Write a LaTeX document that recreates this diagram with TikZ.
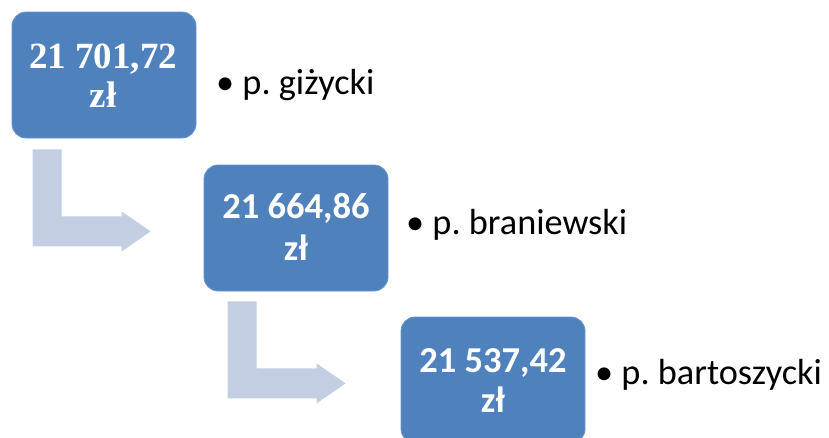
\documentclass[tikz,border=0pt]{standalone}
\usepackage{fontspec}
\setmainfont{Carlito}
\newfontfamily\carlito{Carlito}
\newfontfamily\libserif{Liberation Serif}
\definecolor{boxblue}{HTML}{4F81BD}
\definecolor{boxedge}{HTML}{6A95CA}
\definecolor{arrowfill}{HTML}{C3CEE3}
\frenchspacing
\tikzset{
  valbox/.style={draw=boxedge, line width=0.8pt, fill=boxblue, rounded corners=14pt,
    minimum width=184pt, minimum height=126pt, inner sep=0pt},
  valtxt/.style={anchor=base, inner sep=0pt, text=white, font=\carlito\bfseries\fontsize{36.5}{42}\selectfont},
  valtxtserif/.style={anchor=base, inner sep=0pt, text=white, font=\libserif\bfseries\fontsize{37}{42}\selectfont},
  bullettxt/.style={anchor=base west, inner sep=0pt, text=black, font=\carlito\fontsize{36.3}{42}\selectfont},
  bent/.style={fill=arrowfill, draw=none}
}
\begin{document}
\begin{tikzpicture}[x=1pt,y=-1pt]
\useasboundingbox (0,0) rectangle (829,437);
\begin{scope}
\clip (0,0) rectangle (829,437);
% boxes
\node[valbox] (b1) at (104,75) {};
\node[valbox] (b2) at (296,228) {};
\node[valbox] (b3) at (493,380) {};
\end{scope}
% bent arrows
\coordinate (a1) at ([shift={(21,11)}]b1.south west);
\coordinate (a2) at ([shift={(24,10)}]b2.south west);
\foreach \o in {a1,a2}{
  \fill[bent] (\o) -- ++(29,0) -- ++(0,67) -- ++(60,0) -- ++(0,-5) -- ++(29,20) -- ++(-29,20) -- ++(0,-5) -- ++(-89,0) -- cycle;
}
% box texts
\node[valtxtserif] (t1a) at (103,68) {21 701,72};
\node[valtxtserif] (t1b) at (103,107) {zł};
\node[valtxt] (t2a) at (296,218) {21 664,86};
\node[valtxt] (t2b) at (296,260) {zł};
\node[valtxt] (t3a) at (493,372) {21 537,42};
\node[valtxt] (t3b) at (493,412) {zł};
% labels
\node[bullettxt] (l1) at (216,94) {• p. giżycki};
\node[bullettxt] (l2) at (406,234) {• p. braniewski};
\node[bullettxt] (l3) at (595,384) {• p. bartoszycki};
\end{tikzpicture}
\end{document}
